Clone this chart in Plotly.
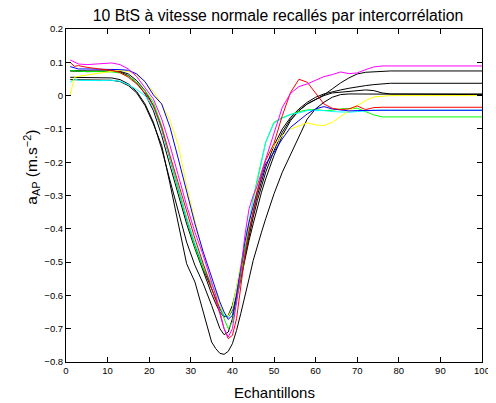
import plotly.graph_objects as go

# Sample positions (Echantillons)
samples = [1, 2, 3, 5, 8, 11, 13, 15, 17, 19, 21, 23, 25, 27, 29, 31, 33, 35, 36, 37,
           38, 39, 40, 41, 42, 43, 44, 45, 46, 47, 48, 50, 52, 54, 56, 58, 60, 62, 64, 66,
           68, 70, 72, 74, 76, 78, 100]

magenta = [0.107, 0.100, 0.095, 0.093, 0.095, 0.098, 0.093, 0.080, 0.057, 0.025, -0.010, -0.070,
           -0.150, -0.240, -0.330, -0.410, -0.480, -0.560, -0.600, -0.650, -0.700, -0.725, -0.700,
           -0.620, -0.530, -0.420, -0.340, -0.300, -0.270, -0.230, -0.190, -0.115, -0.035, 0.007,
           0.027, 0.035, 0.045, 0.057, 0.063, 0.071, 0.066, 0.068, 0.078, 0.086, 0.089, 0.089, 0.089]

red = [0.100, 0.088, 0.090, 0.085, 0.080, 0.076, 0.069, 0.055, 0.035, 0.008, -0.030, -0.095,
       -0.180, -0.265, -0.350, -0.430, -0.505, -0.575, -0.615, -0.655, -0.700, -0.730, -0.720,
       -0.670, -0.580, -0.480, -0.410, -0.345, -0.290, -0.235, -0.195, -0.143, -0.060, 0.010,
       0.049, 0.040, 0.007, -0.025, -0.038, -0.042, -0.040, -0.031, -0.042, -0.036, -0.035, -0.035, -0.035]

blue = [0.087, 0.083, 0.080, 0.080, 0.080, 0.078, 0.078, 0.076, 0.065, 0.042, 0.002, -0.025,
        -0.095, -0.190, -0.290, -0.385, -0.470, -0.545, -0.585, -0.620, -0.650, -0.672, -0.660,
        -0.600, -0.520, -0.440, -0.380, -0.330, -0.285, -0.245, -0.205, -0.170, -0.130, -0.095,
        -0.075, -0.055, -0.040, -0.033, -0.040, -0.044, -0.046, -0.045, -0.044, -0.044, -0.044, -0.044, -0.044]

yellow = [0.000, 0.055, 0.058, 0.062, 0.068, 0.073, 0.075, 0.073, 0.062, 0.040, 0.012, -0.025,
          -0.075, -0.150, -0.270, -0.380, -0.480, -0.560, -0.595, -0.630, -0.655, -0.662, -0.640,
          -0.580, -0.510, -0.440, -0.380, -0.320, -0.270, -0.225, -0.190, -0.150, -0.120, -0.100,
          -0.090, -0.082, -0.088, -0.090, -0.080, -0.062, -0.046, -0.030, -0.015, -0.004, -0.001, 0.000, 0.000]

green = [0.075, 0.074, 0.073, 0.072, 0.072, 0.071, 0.068, 0.058, 0.040, 0.015, -0.020, -0.090,
         -0.190, -0.285, -0.370, -0.455, -0.520, -0.570, -0.590, -0.630, -0.670, -0.700, -0.680,
         -0.620, -0.540, -0.460, -0.380, -0.310, -0.250, -0.190, -0.140, -0.080, -0.066, -0.057,
         -0.048, -0.043, -0.042, -0.045, -0.044, -0.040, -0.038, -0.038, -0.048, -0.058, -0.064, -0.064, -0.064]

cyan = [0.040, 0.050, 0.046, 0.045, 0.045, 0.046, 0.043, 0.033, 0.018, 0.000, -0.035, -0.100,
        -0.190, -0.280, -0.365, -0.445, -0.510, -0.565, -0.600, -0.630, -0.660, -0.665, -0.640,
        -0.580, -0.510, -0.440, -0.370, -0.310, -0.260, -0.200, -0.140, -0.083, -0.068, -0.056,
        -0.052, -0.045, -0.044, -0.045, -0.048, -0.050, -0.050, -0.048, -0.045, -0.044, -0.044, -0.044, -0.044]

black_a = [0.075, 0.075, 0.075, 0.074, 0.074, 0.075, 0.073, 0.065, 0.045, 0.015, -0.030, -0.100,
           -0.190, -0.280, -0.370, -0.450, -0.520, -0.580, -0.610, -0.640, -0.662, -0.665, -0.645,
           -0.600, -0.540, -0.480, -0.420, -0.365, -0.315, -0.270, -0.230, -0.165, -0.110, -0.070,
           -0.045, -0.025, -0.012, 0.002, 0.020, 0.038, 0.053, 0.065, 0.070, 0.072, 0.074, 0.074, 0.074]

black_b = [0.074, 0.073, 0.073, 0.072, 0.073, 0.074, 0.071, 0.060, 0.038, 0.005, -0.045, -0.120,
           -0.210, -0.300, -0.385, -0.460, -0.530, -0.595, -0.625, -0.650, -0.665, -0.660, -0.630,
           -0.580, -0.520, -0.460, -0.400, -0.350, -0.300, -0.255, -0.215, -0.150, -0.100, -0.065,
           -0.040, -0.020, -0.005, 0.005, 0.012, 0.017, 0.022, 0.027, 0.030, 0.033, 0.036, 0.037, 0.037]

black_c = [0.055, 0.055, 0.055, 0.054, 0.054, 0.053, 0.048, 0.035, 0.012, -0.025, -0.080, -0.160,
           -0.255, -0.350, -0.440, -0.510, -0.565, -0.630, -0.665, -0.700, -0.718, -0.710, -0.670,
           -0.610, -0.550, -0.490, -0.435, -0.385, -0.335, -0.290, -0.250, -0.180, -0.120, -0.075,
           -0.045, -0.025, -0.012, 0.000, 0.008, 0.010, 0.012, 0.015, 0.017, 0.015, 0.008, 0.005, 0.005]

black_d = [0.048, 0.048, 0.048, 0.047, 0.047, 0.046, 0.042, 0.030, 0.008, -0.030, -0.085, -0.150,
           -0.265, -0.390, -0.505, -0.560, -0.650, -0.740, -0.760, -0.774, -0.777, -0.768, -0.745,
           -0.705, -0.655, -0.605, -0.550, -0.495, -0.450, -0.410, -0.370, -0.295, -0.230, -0.175,
           -0.120, -0.070, -0.040, -0.020, -0.005, 0.003, 0.005, 0.005, 0.004, 0.003, 0.003, 0.003, 0.003]

series = [
    ("black A", black_a, "#000000"),
    ("black B", black_b, "#000000"),
    ("black C", black_c, "#000000"),
    ("black D", black_d, "#000000"),
    ("green", green, "#00ff00"),
    ("cyan", cyan, "#00ffff"),
    ("yellow", yellow, "#ffff00"),
    ("blue", blue, "#0000ff"),
    ("red", red, "#ff0000"),
    ("magenta", magenta, "#ff00ff"),
]

x_ticks = [0, 10, 20, 30, 40, 50, 60, 70, 80, 90, 100]
y_ticks = [-0.8, -0.7, -0.6, -0.5, -0.4, -0.3, -0.2, -0.1, 0, 0.1, 0.2]
y_ticktext = ["\u22120.8", "\u22120.7", "\u22120.6", "\u22120.5", "\u22120.4", "\u22120.3",
              "\u22120.2", "\u22120.1", "0", "0.1", "0.2"]

FONT = "Liberation Sans, Arial, Helvetica, sans-serif"

fig = go.Figure()
for name, ys, col in series:
    fig.add_trace(go.Scatter(x=samples, y=ys, mode="lines", name=name,
                             line=dict(color=col, width=1), hoverinfo="skip"))

# The page body has an 8px margin; figure coordinates are page coordinates minus 8.
OFF = 8
W, H = 496 - OFF, 403 - OFF
PL, PT, PR, PB = 66, 29, 490, 362          # plot box in page pixels
L, T = PL - OFF, PT - OFF
R = W - (PR - OFF)
B = H - (PB - OFF)
pw, ph = PR - PL, PB - PT

fig.update_layout(
    width=W, height=H,
    margin=dict(l=L, r=R, t=T, b=B, pad=0),
    paper_bgcolor="white", plot_bgcolor="white",
    showlegend=False,
    font=dict(family=FONT, color="black", size=9.5),
    title=dict(text="10 BtS à vitesse normale recallés par intercorrélation",
               x=(278 - OFF) / W, xanchor="center", y=1 - (15.5 - OFF) / H, yanchor="middle",
               font=dict(family=FONT, size=15.8, color="black")),
)
fig.update_xaxes(range=[0, 100], tickvals=x_ticks, ticks="inside", ticklen=5,
                 tickwidth=1, tickcolor="black", mirror="allticks", showline=True,
                 linecolor="black", linewidth=1, showgrid=False, zeroline=False,
                 ticklabeloverflow="allow",
                 tickfont=dict(size=9.5, family=FONT, color="black"))
fig.update_yaxes(range=[-0.8, 0.2], tickvals=y_ticks, ticktext=y_ticktext, ticks="inside",
                 ticklen=5, tickwidth=1, tickcolor="black", mirror="allticks", showline=True,
                 linecolor="black", linewidth=1, showgrid=False, zeroline=False,
                 ticklabeloverflow="allow",
                 tickfont=dict(size=9.5, family=FONT, color="black"))

fig.add_annotation(text="Echantillons", xref="paper", yref="paper",
                   x=(278 - PL) / pw, y=-(392 - PB) / ph, xanchor="center", yanchor="middle",
                   showarrow=False, font=dict(family=FONT, size=15, color="black"))
fig.add_annotation(text="a<sub>AP</sub> (m.s<sup>\u22122</sup>)", xref="paper", yref="paper",
                   x=(31 - PL) / pw, y=(PB - 167) / ph, xanchor="center", yanchor="middle",
                   textangle=-90, showarrow=False, font=dict(family=FONT, size=15.5, color="black"))

fig.write_html("out.html")
